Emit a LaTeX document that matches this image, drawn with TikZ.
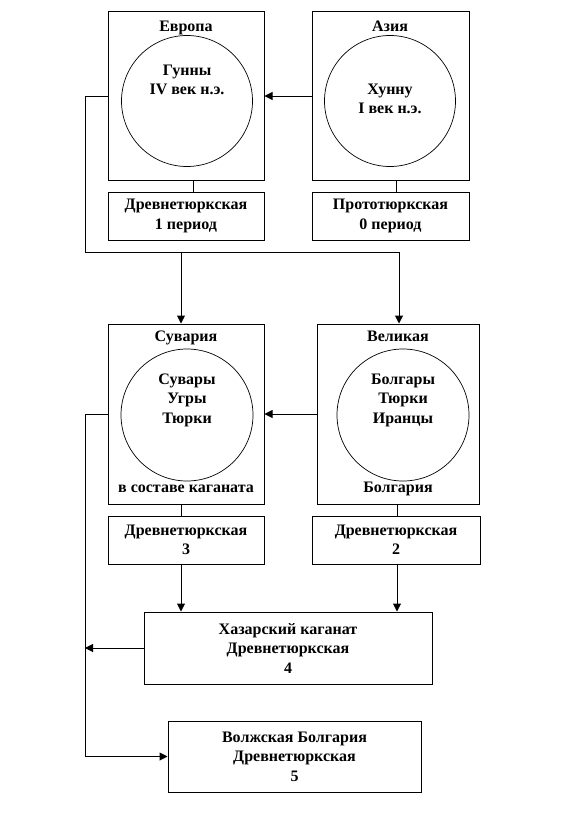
\documentclass[tikz,border=0pt]{standalone}
\usepackage{fontspec}
\setmainfont{Liberation Serif}
\usetikzlibrary{arrows.meta}
\begin{document}
\begin{tikzpicture}[x=1pt,y=-1pt,line width=1pt,
  every node/.style={font=\bfseries\fontsize{16}{19.5}\selectfont,align=center,inner sep=0pt},
  lbl/.style={text height=11pt,text depth=4pt},
  box/.style={draw,rectangle,line width=1pt},
  ring/.style={draw,circle,line width=0.7pt},
  arr/.style={-{Triangle[length=8pt,width=8pt]}}]
\useasboundingbox (0,0) rectangle (564,816);
% top row
\node[box,minimum width=156pt,minimum height=168pt] (eu) at (186,96) {};
\node[box,minimum width=157pt,minimum height=168pt] (as) at (390.5,96) {};
\node[ring,minimum size=131pt] (euc) at (187,101) {};
\node[ring,minimum size=131pt] (asc) at (390,101) {};
\node[lbl] (eut) at (186,28) {Европа};
\node[lbl] (ast) at (390,28) {Азия};
\node (eun) at (187,80) {Гунны\\IV век н.э.};
\node (asn) at (390,99) {Хунну\\I век н.э.};
\node[box,minimum width=156pt,minimum height=48pt] (eu1) at (186,216) {Древнетюркская\\1 период};
\node[box,minimum width=157pt,minimum height=48pt] (as1) at (390.5,216) {Прототюркская\\0 период};
% middle row
\node[box,minimum width=156pt,minimum height=180pt] (suv) at (186,414) {};
\node[box,minimum width=162pt,minimum height=180pt] (vel) at (398,414) {};
\node[ring,minimum size=132pt] (suvc) at (187,415) {};
\node[ring,minimum size=132pt] (velc) at (403,415) {};
\node[lbl] (suvt) at (186,338) {Сувария};
\node[lbl] (suvb) at (186,489) {в составе каганата};
\node[lbl] (velt) at (398,338) {Великая};
\node[lbl] (velb) at (398,489) {Болгария};
\node (suvn) at (187,400) {Сувары\\Угры\\Тюрки};
\node (veln) at (403,400) {Болгары\\Тюрки\\Иранцы};
\node[box,minimum width=156pt,minimum height=48pt] (b3) at (186,540) {Древнетюркская\\3};
\node[box,minimum width=168pt,minimum height=48pt] (b2) at (396,540) {Древнетюркская\\2};
% bottom
\node[box,minimum width=288pt,minimum height=72pt] (kh) at (288,648) {Хазарский каганат\\Древнетюркская\\4};
\node[box,minimum width=253pt,minimum height=71pt] (vo) at (294.5,756.5) {Волжская Болгария\\Древнетюркская\\5};
% coordinates
\coordinate (j1) at (85,252);
\coordinate (j2) at (399,252);
\coordinate (j3) at (181,252);
\coordinate (k1) at (85,756.5);
\coordinate (x1) at (193,0);
\coordinate (x2) at (396,0);
\coordinate (x3) at (397,0);
% connectors
\draw[arr] (as.west) -- (eu.east);
\draw (eu.south -| x1) -- (eu1.north -| x1);
\draw (as.south -| x2) -- (as1.north -| x2);
\draw (eu.west) -| (j1) -- (j2);
\draw[arr] (j2) -- (vel.north -| j2);
\draw[arr] (j3) -- (suv.north -| j3);
\draw[arr] (vel.west) -- (suv.east);
\draw (suv.south -| j3) -- (b3.north -| j3);
\draw (vel.south -| x3) -- (b2.north -| x3);
\draw[arr] (b3.south -| j3) -- (kh.north -| j3);
\draw[arr] (b2.south -| x3) -- (kh.north -| x3);
\draw[arr] (kh.west) -- (kh.west -| k1);
\draw[arr] (suv.west) -| (k1) -- (vo.west);
\end{tikzpicture}
\end{document}
